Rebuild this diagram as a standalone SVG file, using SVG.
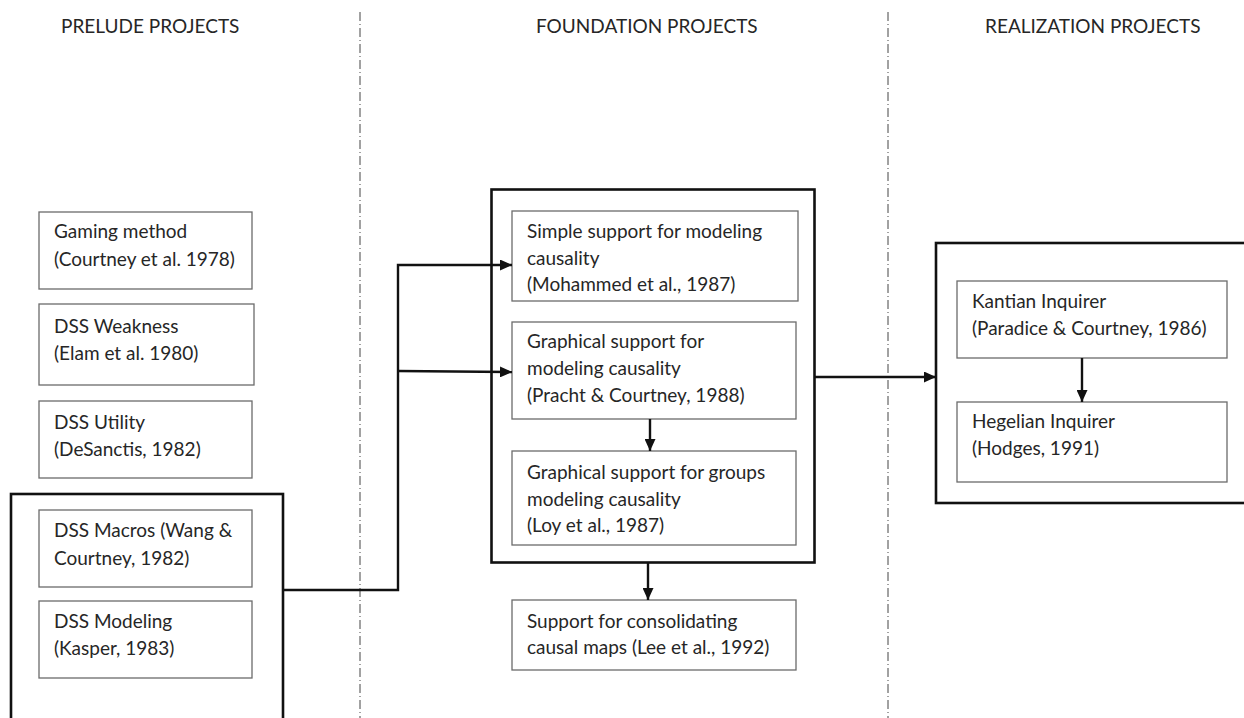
<svg xmlns="http://www.w3.org/2000/svg" width="1244" height="718" viewBox="0 0 1244 718">
  <style>
    text { font-family: Lato, "Open Sans", "Liberation Sans", sans-serif; fill: #262626; }
    .hdr { font-size: 19px; }
    .lbl { font-size: 19px; }
    .box { fill: #ffffff; stroke: #6b6b6b; stroke-width: 1.3; }
    .group { fill: none; stroke: #111; stroke-width: 2.6; }
    .divider { stroke: #444; stroke-width: 1; stroke-dasharray: 9 3 1 3; fill: none; }
    .conn { fill: none; stroke: #111; stroke-width: 2.4; }
  </style>
  <defs>
    <marker id="arrow" viewBox="0 0 12 11" refX="12" refY="5.5" markerWidth="12" markerHeight="11" markerUnits="userSpaceOnUse" orient="auto">
      <path d="M0,0 L12,5.5 L0,11 z" fill="#111"/>
    </marker>
  </defs>
  <rect width="1244" height="718" fill="#ffffff"/>

  <g id="dividers">
    <line class="divider" x1="360" y1="12" x2="360" y2="718"/>
    <line class="divider" x1="888" y1="12" x2="888" y2="718"/>
  </g>

  <g id="headers">
    <text class="hdr" x="61" y="33">PRELUDE PROJECTS</text>
    <text class="hdr" x="536" y="33">FOUNDATION PROJECTS</text>
    <text class="hdr" x="985" y="33">REALIZATION PROJECTS</text>
  </g>

  <g id="group-prelude">
    <rect class="group" x="11" y="494" width="272" height="226"/>
  </g>
  <g id="group-foundation">
    <rect class="group" x="491.5" y="189.5" width="323" height="373"/>
  </g>
  <g id="group-realization">
    <rect class="group" x="936" y="243" width="320" height="260"/>
  </g>

  <g id="gaming">
    <rect class="box" x="39" y="212" width="213" height="77"/>
    <text class="lbl" x="54" y="238">Gaming method</text>
    <text class="lbl" x="54" y="266">(Courtney et al. 1978)</text>
  </g>
  <g id="weakness">
    <rect class="box" x="39" y="304" width="215" height="81"/>
    <text class="lbl" x="54" y="333">DSS Weakness</text>
    <text class="lbl" x="54" y="360">(Elam et al. 1980)</text>
  </g>
  <g id="utility">
    <rect class="box" x="39" y="401" width="213" height="77"/>
    <text class="lbl" x="54" y="429">DSS Utility</text>
    <text class="lbl" x="54" y="456">(DeSanctis, 1982)</text>
  </g>
  <g id="macros">
    <rect class="box" x="39" y="510" width="213" height="77"/>
    <text class="lbl" x="54" y="537">DSS Macros (Wang &amp;</text>
    <text class="lbl" x="54" y="565">Courtney, 1982)</text>
  </g>
  <g id="modeling">
    <rect class="box" x="39" y="601" width="213" height="77"/>
    <text class="lbl" x="54" y="628">DSS Modeling</text>
    <text class="lbl" x="54" y="655">(Kasper, 1983)</text>
  </g>

  <g id="simple">
    <rect class="box" x="512" y="211" width="286" height="90"/>
    <text class="lbl" x="527" y="238">Simple support for modeling</text>
    <text class="lbl" x="527" y="265">causality</text>
    <text class="lbl" x="527" y="291">(Mohammed et al., 1987)</text>
  </g>
  <g id="graphical">
    <rect class="box" x="512" y="322" width="284" height="97"/>
    <text class="lbl" x="527" y="348">Graphical support for</text>
    <text class="lbl" x="527" y="375">modeling causality</text>
    <text class="lbl" x="527" y="402">(Pracht &amp; Courtney, 1988)</text>
  </g>
  <g id="groups">
    <rect class="box" x="512" y="451" width="284" height="94"/>
    <text class="lbl" x="527" y="479">Graphical support for groups</text>
    <text class="lbl" x="527" y="506">modeling causality</text>
    <text class="lbl" x="527" y="532">(Loy et al., 1987)</text>
  </g>
  <g id="consolidating">
    <rect class="box" x="512" y="600" width="284" height="70"/>
    <text class="lbl" x="527" y="628">Support for consolidating</text>
    <text class="lbl" x="527" y="654">causal maps (Lee et al., 1992)</text>
  </g>

  <g id="kantian">
    <rect class="box" x="957" y="281" width="270" height="77"/>
    <text class="lbl" x="972" y="308">Kantian Inquirer</text>
    <text class="lbl" x="972" y="335">(Paradice &amp; Courtney, 1986)</text>
  </g>
  <g id="hegelian">
    <rect class="box" x="957" y="402" width="270" height="80"/>
    <text class="lbl" x="972" y="428">Hegelian Inquirer</text>
    <text class="lbl" x="972" y="455">(Hodges, 1991)</text>
  </g>

  <g id="connectors">
    <polyline class="conn" points="283,590 398,590 398,265 512,265" marker-end="url(#arrow)"/>
    <line class="conn" x1="398" y1="371" x2="512" y2="372" marker-end="url(#arrow)"/>
    <line class="conn" x1="650" y1="419" x2="650" y2="451" marker-end="url(#arrow)"/>
    <line class="conn" x1="648" y1="563" x2="648" y2="600" marker-end="url(#arrow)"/>
    <line class="conn" x1="815" y1="377" x2="936" y2="377" marker-end="url(#arrow)"/>
    <line class="conn" x1="1082" y1="358" x2="1082" y2="402" marker-end="url(#arrow)"/>
  </g>
</svg>
